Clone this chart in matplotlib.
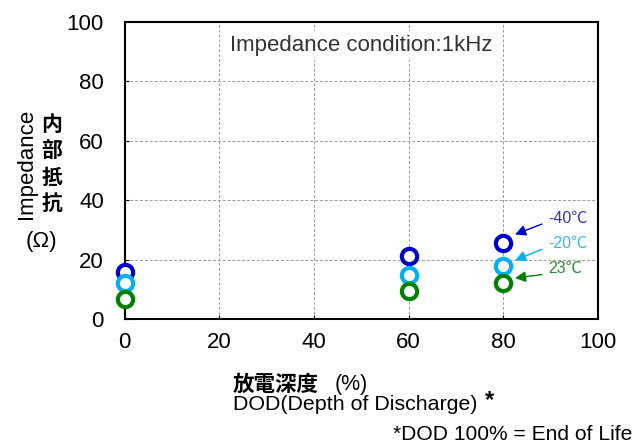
#!/usr/bin/env python3
import matplotlib
matplotlib.use('Agg')
import matplotlib.pyplot as plt
import numpy as np

# DOD (%) on x, impedance (ohm) on y, one series per temperature
dod = [0, 60, 80]
temps = ['-40℃', '-20℃', '23℃']
imp_m40 = [15.9, 21.3, 25.5]
imp_m20 = [12.0, 15.0, 17.8]
imp_23 = [6.7, 9.4, 12.0]
x_ticks = [0, 20, 40, 60, 80, 100]
y_ticks = [0, 20, 40, 60, 80, 100]

plt.rcParams['font.family'] = ['Liberation Sans', 'Noto Sans CJK JP', 'DejaVu Sans']

colors = ['#0000CC', '#00B0F0', '#008000']
text_colors = ['#3333AA', '#33B5F0', '#2E8B2E']

fig = plt.figure(figsize=(6.4, 4.47), dpi=100)
ax = fig.add_axes([0.195, 0.286, 0.739, 0.665])

series = [imp_m40, imp_m20, imp_23]
for vals, c in zip(series, colors):
	ax.plot(dod, vals, linestyle='none', marker='o', markersize=11,
		markerfacecolor='white', markeredgecolor=c, markeredgewidth=3,
		clip_on=False, zorder=5)

ax.set_xlim(0, 100)
ax.set_ylim(0, 100)
ax.set_xticks(x_ticks)
ax.set_yticks(y_ticks)
ax.tick_params(labelsize=16, direction='in', length=3)
ax.tick_params(axis='x', pad=9)
ax.tick_params(axis='y', pad=15)
ax.grid(True, linestyle=(0, (3, 2)), color='#999999', linewidth=0.7)
for s in ax.spines.values():
	s.set_linewidth(1.5)

ax.text(50, 92, 'Impedance condition:1kHz', ha='center', va='center',
	fontsize=16, color='#333333',
	bbox=dict(facecolor='white', edgecolor='none', pad=3), zorder=4)

# temperature labels with arrows at the 80% points
offsets = [3.0, 2.0, 1.8]
text_y = [34, 25.5, 17]
for vals, t, c, tc, dy, ty in zip(series, temps, colors, text_colors, offsets, text_y):
	ax.annotate('', xy=(82.5, vals[-1] + dy), xytext=(88.2, ty - 2),
		arrowprops=dict(arrowstyle='-|>', color=c, lw=1, mutation_scale=16,
		shrinkA=0, shrinkB=0), zorder=6)
	ax.text(89.5, ty, t, fontsize=11.5, color=tc, ha='left', va='center',
		family=['Liberation Sans', 'Noto Sans CJK JP'])

# y axis labels
fig.text(0.042, 0.633, 'Impedance', rotation=90, ha='center', va='center', fontsize=16)
fig.text(0.081, 0.633, '内\n部\n抵\n抗', ha='center', va='center', fontsize=15,
	fontweight='bold', linespacing=1.32, family=['Noto Sans CJK JP'])
fig.text(0.064, 0.459, '(Ω)', ha='center', va='center', fontsize=16)

# x axis labels
fig.text(0.364, 0.139, '放電深度', ha='left', va='center', fontsize=15.5,
	fontweight='bold', family=['Noto Sans CJK JP'])
fig.text(0.523, 0.139, '(%)', ha='left', va='center', fontsize=15.5)
fig.text(0.364, 0.094, 'DOD(Depth of Discharge)', ha='left', va='center', fontsize=15.4)
fig.text(0.758, 0.104, '*', ha='left', va='center', fontsize=17, fontweight='bold')
fig.text(0.988, 0.027, '*DOD 100% = End of Life', ha='right', va='center', fontsize=15.1)

fig.savefig('out.png', dpi=100)
